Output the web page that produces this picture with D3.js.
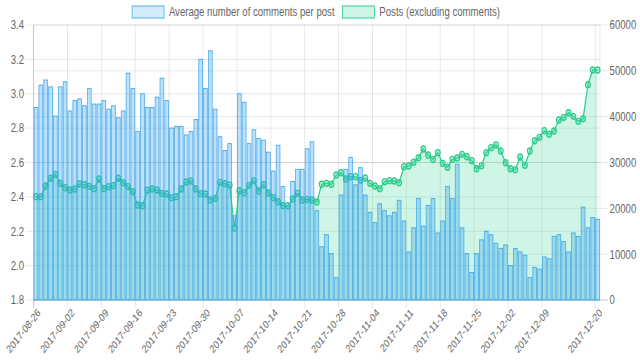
<!DOCTYPE html>
<html>
<head>
<meta charset="utf-8">
<script src="https://cdn.jsdelivr.net/npm/d3@7"></script>
<style>
  body { margin: 0; background: #fff; }
  svg { display: block; }
  text { font-family: "Helvetica Neue", Helvetica, Arial, "Liberation Sans", sans-serif; }
</style>
</head>
<body>
<div id="chart"></div>
<script>
// daily categories, 2017-08-26 .. 2017-12-20
const startDay = new Date(2017, 7, 26);
const endDay = new Date(2017, 11, 21);
const days = d3.timeDay.range(startDay, endDay);

const seriesNames = ["Average number of comments per post", "Posts (excluding comments)"];

const avgComments = [
  2.92, 3.05, 3.08, 3.04, 2.87, 3.04, 3.07, 2.90, 2.96, 2.97, 2.93, 3.03, 2.94, 2.94,
  2.96, 2.91, 2.93, 2.86, 2.90, 3.12, 3.03, 2.78, 3.00, 2.92, 2.92, 2.98, 3.09, 2.96,
  2.80, 2.81, 2.81, 2.76, 2.78, 2.85, 3.20, 3.03, 3.25, 2.91, 2.75, 2.67, 2.71, 2.29,
  3.00, 2.95, 2.71, 2.79, 2.74, 2.73, 2.66, 2.55, 2.70, 2.46, 2.35, 2.49, 2.56, 2.56,
  2.68, 2.72, 2.32, 2.11, 2.18, 2.07, 1.93, 2.41, 2.56, 2.63, 2.47, 2.57, 2.41, 2.31,
  2.25, 2.36, 2.32, 2.29, 2.31, 2.38, 2.26, 2.08, 2.22, 2.39, 2.23, 2.35, 2.39, 2.19,
  2.26, 2.46, 2.39, 2.59, 2.22, 2.07, 1.96, 2.07, 2.15, 2.20, 2.18, 2.13, 2.10, 2.12,
  2.00, 2.10, 2.08, 2.06, 1.93, 1.99, 1.98, 2.05, 2.04, 2.17, 2.18, 2.14, 2.08, 2.19,
  2.17, 2.34, 2.22, 2.28, 2.27
];

const posts = [
  22550, 22550, 24870, 26550, 27420, 25460, 24510, 24000, 24220, 25310, 25160, 24800,
  24290, 26400, 24290, 24730, 24950, 26550, 25600, 24730, 23640, 20730, 20580, 23930,
  24220, 24000, 23270, 23130, 22330, 22550, 24220, 25750, 25960, 24220, 23200, 23130,
  21820, 22180, 25670, 25380, 25090, 15710, 23850, 23420, 25020, 26040, 23780, 25160,
  23350, 22330, 21450, 20580, 20580, 22040, 23270, 21820, 21960, 21820, 21380, 25240,
  25450, 25240, 27270, 27780, 26400, 26910, 26910, 26110, 26620, 25450, 24870, 24290,
  25820, 26040, 25960, 25600, 29090, 29240, 30040, 31050, 32950, 31640, 30690, 32150,
  29820, 28950, 30690, 30980, 31780, 31270, 30400, 28650, 29310, 32150, 33240, 33820,
  32510, 29960, 28650, 28440, 31200, 29380, 32510, 34760, 35490, 36950, 36150, 36870,
  39270, 39850, 40870, 40070, 38980, 39560, 46980, 50180, 50180
];

const leftTicks = [1.8, 2.0, 2.2, 2.4, 2.6, 2.8, 3.0, 3.2, 3.4];
const rightTicks = [0, 10000, 20000, 30000, 40000, 50000, 60000];

// drawn in an 800-wide space, squeezed into 640px like the original
const W = 800, H = 361;
const L = 42, R = 750, T = 25, B = 300;

const barFill = "rgba(54,162,235,0.32)";
const barLine = "rgba(54,162,235,0.85)";
const areaFill = "rgba(60,215,150,0.25)";
const lineCol = "rgb(45,205,140)";
const gridCol = "rgba(0,0,0,0.1)";
const labelCol = "#666";

const svg = d3.select("#chart").append("svg")
  .attr("width", 640).attr("height", 361)
  .attr("viewBox", `0 0 ${W} ${H}`)
  .attr("preserveAspectRatio", "none");

const x = d3.scaleBand().domain(days).range([L, R]).padding(0);
const yL = d3.scaleLinear().domain([1.8, 3.4]).range([B, T]);
const yR = d3.scaleLinear().domain([0, 60000]).range([B, T]);
const cx = d => x(d) + x.bandwidth() / 2;
const fmtDay = d3.timeFormat("%Y-%m-%d");

// labelled x ticks: every 7th day, last one always
const n = days.length;
const xTickDays = days.filter((d, i) => (i % 7 === 0 && i + 7 < n) || i === n - 1);

// grid
const grid = svg.append("g");
grid.selectAll(".gl").data(leftTicks).join("line")
  .attr("x1", L - 10).attr("x2", R)
  .attr("y1", d => yL(d)).attr("y2", d => yL(d))
  .attr("stroke", gridCol);
grid.selectAll(".gr").data(rightTicks).join("line")
  .attr("x1", L).attr("x2", R + 10)
  .attr("y1", d => yR(d)).attr("y2", d => yR(d))
  .attr("stroke", d => d === 0 ? "rgba(0,0,0,0.25)" : gridCol);
grid.selectAll(".gx").data(xTickDays).join("line")
  .attr("x1", d => x(d)).attr("x2", d => x(d))
  .attr("y1", T).attr("y2", B + 8)
  .attr("stroke", (d, i) => i === 0 ? "rgba(0,0,0,0.25)" : gridCol);
grid.append("line").attr("x1", R).attr("x2", R).attr("y1", T).attr("y2", B)
  .attr("stroke", gridCol);

// posts: area, line, points
const rows = days.map((d, i) => ({ d, a: avgComments[i], p: posts[i] }));
svg.append("path").datum(rows)
  .attr("fill", areaFill)
  .attr("d", d3.area().x(r => cx(r.d)).y0(B).y1(r => yR(r.p)));
svg.append("path").datum(rows)
  .attr("fill", "none").attr("stroke", lineCol).attr("stroke-width", 1.5)
  .attr("d", d3.line().x(r => cx(r.d)).y(r => yR(r.p)));
svg.append("g").selectAll("circle").data(rows).join("circle")
  .attr("cx", r => cx(r.d)).attr("cy", r => yR(r.p)).attr("r", 3)
  .attr("fill", "rgba(60,215,150,0.35)")
  .attr("stroke", lineCol).attr("stroke-width", 1.4);

// bars on top
const bw = x.bandwidth() * 0.78;
svg.append("g").selectAll("rect").data(rows).join("rect")
  .attr("x", r => cx(r.d) - bw / 2).attr("width", bw)
  .attr("y", r => yL(r.a)).attr("height", r => B - yL(r.a))
  .attr("fill", barFill).attr("stroke", barLine).attr("stroke-width", 1);

// axes
const axL = svg.append("g").attr("transform", `translate(${L - 12},0)`)
  .call(d3.axisLeft(yL).tickValues(leftTicks).tickFormat(d3.format(".1f")).tickSize(0).tickPadding(0));
const axR = svg.append("g").attr("transform", `translate(${R + 12},0)`)
  .call(d3.axisRight(yR).tickValues(rightTicks).tickFormat(d3.format("d")).tickSize(0).tickPadding(0));
const axB = svg.append("g").attr("transform", `translate(0,${B + 6})`)
  .call(d3.axisBottom(x).tickValues(xTickDays).tickFormat(fmtDay).tickSize(0).tickPadding(0));
[axL, axR, axB].forEach(a => {
  a.select(".domain").remove();
  a.selectAll("text").attr("fill", labelCol).attr("font-size", 12)
    .style("font-family", '"Helvetica Neue", Helvetica, Arial, "Liberation Sans", sans-serif');
});
axB.selectAll(".tick text")
  .attr("font-size", 11)
  .attr("text-anchor", "end")
  .attr("transform", "translate(1,2) rotate(-46)")
  .attr("dy", "0.7em").attr("y", 0).attr("x", 0);

// legend
const legend = svg.append("g");
const legendItems = [
  { name: seriesNames[0], fill: "rgba(54,162,235,0.22)", stroke: barLine },
  { name: seriesNames[1], fill: "rgba(60,215,150,0.25)", stroke: lineCol }
];
const items = legend.selectAll("g").data(legendItems).join("g");
items.append("rect").attr("width", 40).attr("height", 12).attr("y", 6)
  .attr("fill", d => d.fill).attr("stroke", d => d.stroke).attr("stroke-width", 1);
items.append("text").attr("x", 46).attr("y", 16)
  .attr("font-size", 12).attr("fill", labelCol).text(d => d.name);
let widths = [];
items.each(function () { widths.push(46 + d3.select(this).select("text").node().getComputedTextLength()); });
const total = d3.sum(widths) + 10 * (widths.length - 1);
let lx = W / 2 - 5 - total / 2;
items.attr("transform", (d, i) => { const t = `translate(${lx},0)`; lx += widths[i] + 10; return t; });
</script>
</body>
</html>
